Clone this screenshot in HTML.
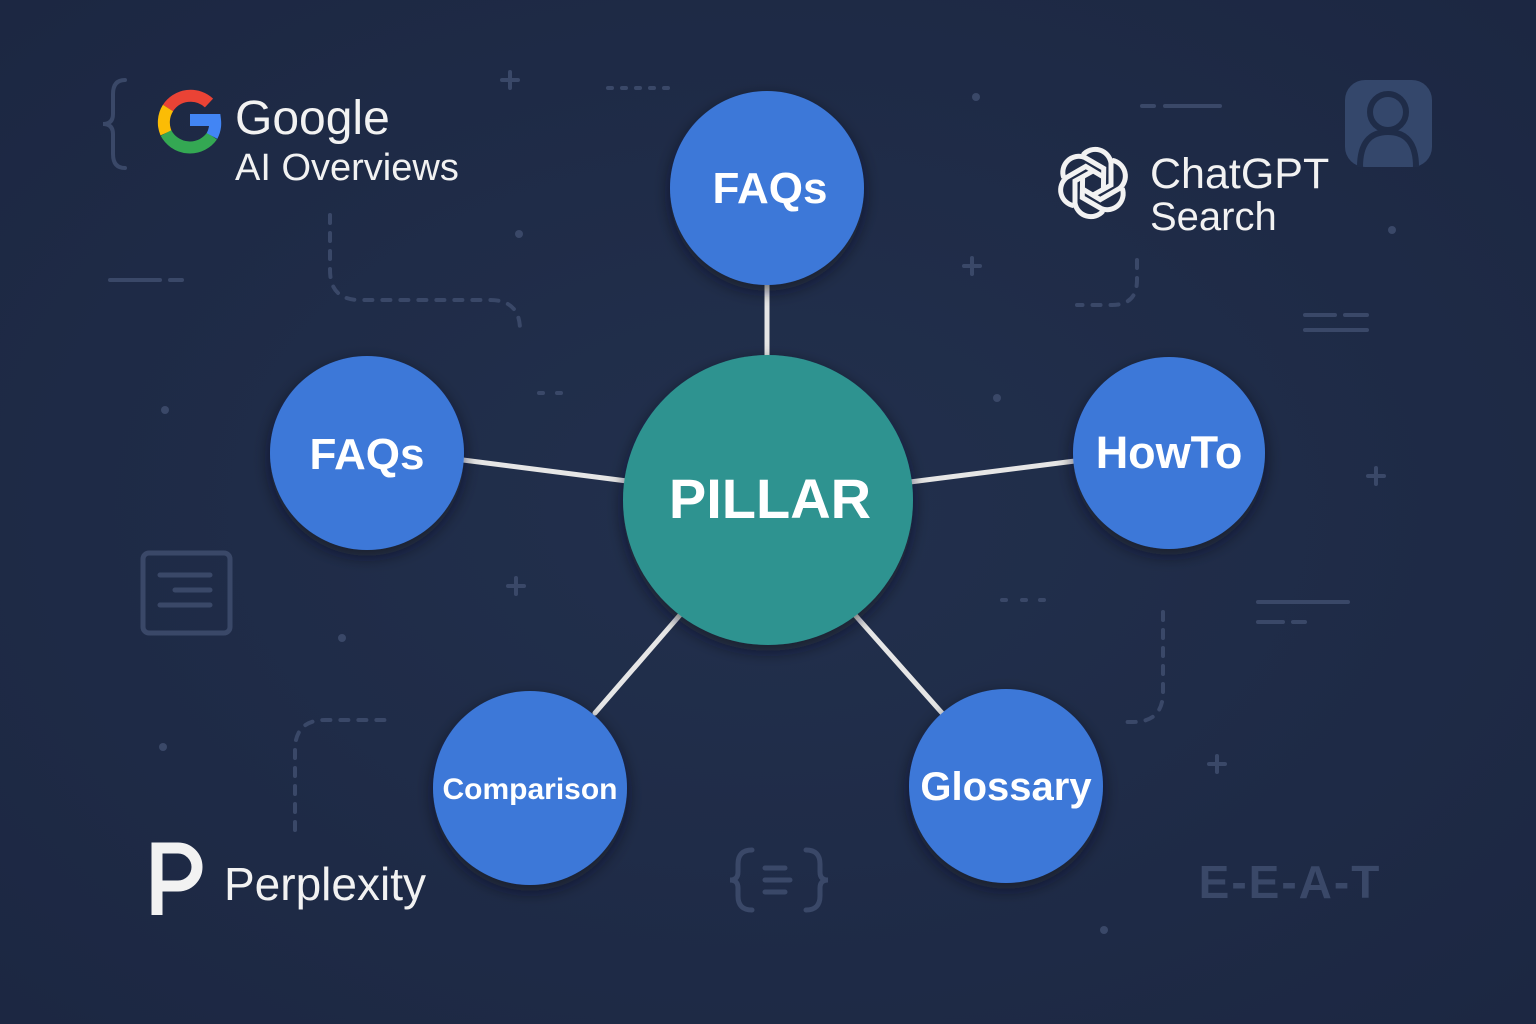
<!DOCTYPE html>
<html><head><meta charset="utf-8"><style>
html,body{margin:0;padding:0;background:#1e2a46;}
svg{display:block}
text{font-family:"Liberation Sans",sans-serif}
</style></head><body>
<svg width="1536" height="1024" viewBox="0 0 1536 1024" xmlns="http://www.w3.org/2000/svg">
<defs>
<radialGradient id="bg" cx="50%" cy="50%" r="70%"><stop offset="0" stop-color="#22304d"/><stop offset="1" stop-color="#1c2742"/></radialGradient>
<filter id="sh" x="-30%" y="-30%" width="160%" height="160%"><feDropShadow dx="0" dy="6" stdDeviation="8" flood-color="#0b1020" flood-opacity="0.6"/></filter>
</defs>
<rect width="1536" height="1024" fill="url(#bg)"/>
<g stroke="#3a4868" stroke-width="4" fill="none" stroke-linecap="round">
<path d="M125 80 q-12 0 -12 14 v20 q0 10 -10 10 q10 0 10 10 v20 q0 14 12 14"/>
<path d="M330 215 v55 q0 30 30 30 h130 q30 0 30 30" stroke-dasharray="8 10"/>
<path d="M1137 260 v20 q0 25 -25 25 h-35" stroke-dasharray="8 10"/>
<path d="M1163 612 v80 q0 30 -30 30 h-10" stroke-dasharray="8 10"/>
<path d="M295 830 v-80 q0 -30 30 -30 h60" stroke-dasharray="8 10"/>
<path d="M110 280 h50 M170 280 h12"/>
<path d="M1142 106 h12 M1165 106 h55"/>
<path d="M1305 315 h30 M1345 315 h22 M1305 330 h62"/>
<path d="M1258 602 h90 M1258 622 h25 M1293 622 h12"/>
<path d="M608 88 h4 M622 88 h4 M636 88 h4 M650 88 h4 M664 88 h4"/>
<path d="M1002 600 h4 M1022 600 h4 M1040 600 h4"/>
<path d="M539 393 h4 M557 393 h4"/>
<path d="M510 72 v16 M502 80 h16 M972 258 v16 M964 266 h16 M1376 468 v16 M1368 476 h16 M516 578 v16 M508 586 h16 M1217 756 v16 M1209 764 h16"/>
<rect x="143" y="553" width="87" height="80" rx="6" stroke-width="5"/>
<path d="M160 575 h50 M175 590 h35 M160 605 h50" stroke-width="5"/>
<path d="M752 850 q-14 0 -14 14 v8 q0 8 -8 8 q8 0 8 8 v8 q0 14 14 14 M806 850 q14 0 14 14 v8 q0 8 8 8 q-8 0 -8 8 v8 q0 14 -14 14 M765 868 h20 M765 880 h25 M765 892 h20" stroke-width="5"/>
</g>
<g fill="#3a4868"><circle cx="976" cy="97" r="4"/><circle cx="519" cy="234" r="4"/><circle cx="1392" cy="230" r="4"/><circle cx="165" cy="410" r="4"/><circle cx="997" cy="398" r="4"/><circle cx="342" cy="638" r="4"/><circle cx="163" cy="747" r="4"/><circle cx="1104" cy="930" r="4"/></g>
<rect x="1345" y="80" width="87" height="87" rx="20" fill="#34476b"/>
<circle cx="1388" cy="112" r="18" fill="none" stroke="#1f2c48" stroke-width="6"/>
<path d="M1360 167 q0 -35 28 -35 q28 0 28 35" fill="none" stroke="#1f2c48" stroke-width="6"/>
<text x="1290" y="898" font-size="46" font-weight="bold" fill="#3a4868" text-anchor="middle" letter-spacing="2">E-E-A-T</text>
<g stroke="#e6e6e6" stroke-width="5" stroke-linecap="round">
<line x1="767" y1="285" x2="767" y2="357"/>
<line x1="463" y1="460" x2="627" y2="481"/>
<line x1="910" y1="482" x2="1075" y2="461"/>
<line x1="595" y1="713" x2="680" y2="615"/>
<line x1="855" y1="615" x2="942" y2="713"/>
</g>
<g filter="url(#sh)" fill="#3c78d8">
<circle cx="767" cy="188" r="97"/>
<circle cx="367" cy="453" r="97"/>
<circle cx="1169" cy="453" r="96"/>
<circle cx="530" cy="788" r="97"/>
<circle cx="1006" cy="786" r="97"/>
<circle cx="768" cy="500" r="145" fill="#2e9390"/>
</g>
<g fill="#fff" font-weight="bold" text-anchor="middle">
<text x="770" y="203" font-size="44">FAQs</text>
<text x="367" y="469" font-size="44">FAQs</text>
<text x="1169" y="468" font-size="45">HowTo</text>
<text x="530" y="799" font-size="30">Comparison</text>
<text x="1006" y="800" font-size="40">Glossary</text>
<text x="770" y="518" font-size="56">PILLAR</text>
</g>
<g fill="none" stroke-width="12">
<path d="M209 103 A27 27 0 0 0 168 108" stroke="#ea4335"/>
<path d="M168 108 A27 27 0 0 0 166 133" stroke="#fbbc05"/>
<path d="M166 133 A27 27 0 0 0 212 136" stroke="#34a853"/>
<path d="M212 136 A27 27 0 0 0 215 120 H190" stroke="#4285f4"/>
</g>
<text x="235" y="134" font-size="48" fill="#f2f2f2">Google</text>
<text x="235" y="180" font-size="38" fill="#f2f2f2">AI Overviews</text>
<g fill="none" stroke="#f2f2f2" stroke-width="5" transform="translate(1093,183)">
<g id="p"><path d="M-10 -28 a16 16 0 0 1 28 8 v22 l-18 10"/></g>
<use href="#p" transform="rotate(60)"/><use href="#p" transform="rotate(120)"/><use href="#p" transform="rotate(180)"/><use href="#p" transform="rotate(240)"/><use href="#p" transform="rotate(300)"/>
</g>
<text x="1150" y="188" font-size="43" fill="#f2f2f2">ChatGPT</text>
<text x="1150" y="230" font-size="40" fill="#f2f2f2">Search</text>
<path d="M157 915 V848 H178 a19 19 0 0 1 0 38 H157" fill="none" stroke="#f2f2f2" stroke-width="11"/>
<text x="224" y="900" font-size="46" fill="#f2f2f2">Perplexity</text>
</svg>
</body></html>
